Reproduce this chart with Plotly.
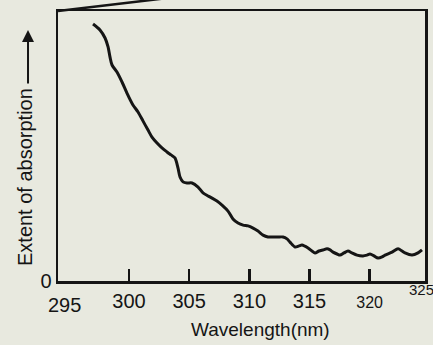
import plotly.graph_objects as go

# Wavelength (nm) and extent of absorption (relative units, 0-100)
wavelength = [297.01, 297.59, 298.01, 298.26, 298.42, 298.59, 299.00, 299.42, 299.83, 300.33,
              300.75, 301.16, 301.58, 301.91, 302.33, 302.74, 303.16, 303.49, 303.82, 304.07,
              304.24, 304.49, 304.82, 305.24, 305.74, 306.15, 306.57, 306.90, 307.31, 307.73,
              308.23, 308.64, 309.06, 309.48, 309.89, 310.31, 310.72, 311.14, 311.55, 311.97,
              312.38, 312.80, 313.13, 313.38, 313.80, 314.13, 314.38, 314.88, 315.21, 315.46,
              315.79, 316.12, 316.46, 316.71, 316.96, 317.29, 317.54, 317.87, 318.20, 318.53,
              318.95, 319.45, 319.78, 320.03, 320.36, 320.70, 321.03, 321.28, 321.86, 322.36,
              322.69, 322.94, 323.52, 324.02, 324.35]
absorption = [95.2, 93.0, 90.0, 86.7, 83.0, 80.0, 77.4, 73.7, 69.6, 65.2,
              62.6, 59.3, 55.9, 53.3, 51.1, 49.3, 47.8, 46.7, 45.6, 41.9,
              38.5, 36.7, 36.3, 36.3, 34.8, 32.6, 31.5, 30.7, 29.6, 28.1,
              25.9, 23.0, 21.5, 20.7, 20.4, 19.6, 18.5, 17.0, 16.3, 16.3,
              16.3, 16.3, 15.6, 14.4, 12.6, 13.0, 13.3, 12.2, 11.1, 10.4,
              11.1, 11.5, 11.9, 11.5, 10.7, 10.0, 9.6, 10.4, 11.1, 10.4,
              9.6, 9.3, 9.6, 10.0, 9.3, 8.5, 8.9, 9.6, 10.7, 11.9,
              11.1, 10.4, 9.6, 10.4, 11.5]

x_tick_vals = [300, 305, 310, 315, 320]
x_tick_text = ["300", "305", "310", "315", "<span style='font-size:16px'>320</span>"]
y_tick_vals = [0]
y_tick_text = ["0"]

INK = "#151515"
BG = "#e8e9df"
FONT = "Liberation Sans, Arial, sans-serif"

fig = go.Figure()
fig.add_trace(go.Scatter(
    x=wavelength, y=absorption, mode="lines",
    line=dict(color=INK, width=3, shape="spline", smoothing=0.8),
    showlegend=False, hoverinfo="skip"))

fig.update_layout(
    width=433, height=345,
    margin=dict(l=58, r=8, t=11, b=64, autoexpand=False),
    paper_bgcolor=BG, plot_bgcolor=BG,
    font=dict(family=FONT, color=INK, size=20),
    xaxis=dict(range=[294.1, 324.6], showgrid=False, zeroline=False, automargin=False,
               showline=True, mirror=True, linecolor=INK, linewidth=2.5,
               ticks="inside", ticklen=12, tickwidth=2.5, tickcolor=INK,
               tickvals=x_tick_vals, ticktext=x_tick_text,
               tickfont=dict(size=20)),
    yaxis=dict(range=[0, 100], showgrid=False, zeroline=False, automargin=False,
               showline=True, mirror=True, linecolor=INK, linewidth=2.5,
               ticks="", tickvals=y_tick_vals, ticktext=y_tick_text,
               tickfont=dict(size=20)),
    annotations=[
        dict(text="295", xref="paper", yref="paper", x=0.019, y=-0.089,
             showarrow=False, xanchor="center", yanchor="middle", font=dict(size=20)),
        dict(text="325", xref="paper", yref="paper", x=0.99, y=-0.033,
             showarrow=False, xanchor="center", yanchor="middle", font=dict(size=15)),
        dict(text="Wavelength(nm)", xref="paper", yref="paper", x=0.553, y=-0.178,
             showarrow=False, xanchor="center", yanchor="middle", font=dict(size=19)),
        dict(text="Extent of absorption", xref="paper", yref="paper", x=-0.09, y=0.385,
             textangle=-90, showarrow=False, xanchor="center", yanchor="middle",
             font=dict(size=20)),
        dict(text="", xref="paper", yref="paper", x=-0.0817, y=0.9296,
             showarrow=True, ax=0, ay=55, arrowhead=2, arrowsize=1.2,
             arrowwidth=2, arrowcolor=INK),
    ],
    shapes=[
        dict(type="line", xref="paper", yref="paper", x0=0, y0=1, x1=0.4006, y1=1.0644,
             line=dict(color=INK, width=2.5)),
    ],
)

fig.write_html(
    "out.html",
    config={"displayModeBar": False, "staticPlot": True},
    post_script="document.body.style.margin='0';document.body.style.background='%s';" % BG,
)
